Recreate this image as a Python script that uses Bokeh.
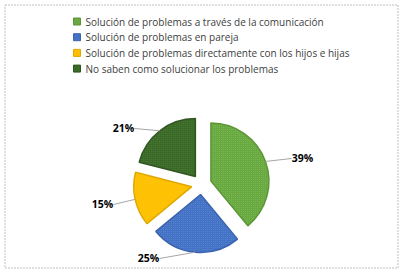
import math
from bokeh.plotting import figure
from bokeh.models import Range1d
from bokeh.core.properties import value
from bokeh.embed import file_html
from bokeh.resources import INLINE

categories = [
    "Solución de problemas a través de la comunicación",
    "Solución de problemas en pareja",
    "Solución de problemas directamente con los hijos e hijas",
    "No saben como solucionar los problemas",
]
percents = [39, 25, 15, 21]
labels = ["39%", "25%", "15%", "21%"]
colors = ["#6aa842", "#4472c4", "#ffc000", "#3b6a28"]
edge_colors = ["#5b9634", "#3a63ad", "#e0a800", "#2f5620"]
dot_colors = ["#9be070", "#7fa6ee", "#f7d04a", "#6a9a50"]

W, H = 404, 274
p = figure(width=W, height=H, output_backend="svg", toolbar_location=None,
           x_range=Range1d(0, W), y_range=Range1d(0, H), min_border=0)
p.axis.visible = False
p.grid.visible = False
p.outline_line_color = None
p.background_fill_color = "white"
p.border_fill_color = "white"

def Y(ys):
    return H - ys

# chart border
p.quad(left=4.5, right=397.5, top=Y(4.5), bottom=Y(267.5), fill_color=None,
       line_color="#c0c0c0", line_dash="2 1", line_width=1)

# pie geometry
cx, cy = 201, Y(184)
r = 58
explode = 10
total = sum(percents)
cum = 0.0
xs, ys, sa, ea = [], [], [], []
mids = []
for v in percents:
    a = cum / total * 360
    b = (cum + v) / total * 360
    m = math.radians((a + b) / 2)
    mids.append(m)
    xs.append(cx + explode * math.sin(m))
    ys.append(cy + explode * math.cos(m))
    sa.append(math.radians(90 - b))
    ea.append(math.radians(90 - a))
    cum += v

p.wedge(x=xs, y=ys, radius=r, start_angle=sa, end_angle=ea,
        fill_color=colors, line_color=edge_colors, line_width=1.5,
        hatch_pattern="dot", hatch_color=dot_colors, hatch_alpha=0.35, hatch_scale=2)

# labels + leader lines
lab_pos = [(302, 157), (148, 257), (102, 203), (123, 127)]  # screen coords (layout)
lx, ly, x0s, y0s, x1s, y1s = [], [], [], [], [], []
for i, m in enumerate(mids):
    px = xs[i] + r * math.sin(m)
    py = ys[i] + r * math.cos(m)
    tx, ty = lab_pos[i]
    lx.append(tx); ly.append(Y(ty))
    end_x = tx - 11 if tx > px else tx + 11
    x0s.append(px); y0s.append(py); x1s.append(end_x); y1s.append(Y(ty) - 1)
p.segment(x0=x0s, y0=y0s, x1=x1s, y1=y1s, line_color="#a6a6a6", line_width=1)
p.text(x=lx, y=ly, text=labels, text_font=value("Open Sans"), text_font_size="10.5px",
       text_font_style="bold", text_align="center", text_baseline="middle", text_color="#000000")

# legend
leg_y = [Y(21 + i * 15.7) for i in range(len(categories))]
p.rect(x=[76.5] * 4, y=leg_y, width=7, height=7, fill_color=colors, line_color=edge_colors, line_width=1)
p.text(x=[85] * 4, y=leg_y, text=categories, text_font=value("Open Sans"), text_font_size="10px",
       text_align="left", text_baseline="middle", text_color="#404040")

open("out.html", "w").write(file_html(p, INLINE))
